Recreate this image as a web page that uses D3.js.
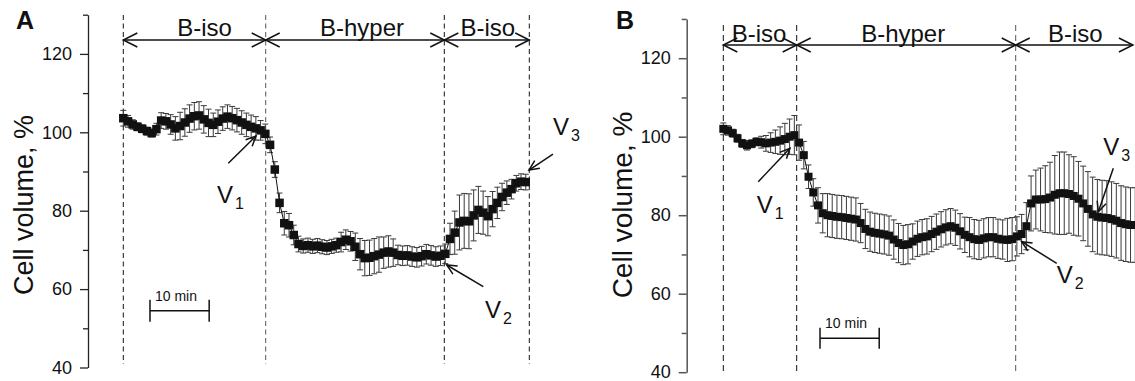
<!DOCTYPE html>
<html>
<head>
<meta charset="utf-8">
<script src="https://cdn.jsdelivr.net/npm/d3@7"></script>
<style>
  body { margin: 0; background: #fff; }
  svg { display: block; }
  text { font-family: "Liberation Sans", Arial, Helvetica, sans-serif; fill: #111; }
</style>
</head>
<body>
<svg id="chart" width="1135" height="381"></svg>
<script>
// Time between recorded frames, minutes
const frameMinutes = 0.8;

// Panel A: mean cell volume (%) and SEM per frame
const volumeA = [
  103.6,102.8,102.0,101.4,100.9,100.3,99.8,100.8,103.0,102.8,
  102.0,101.0,101.6,102.5,103.5,104.1,104.3,103.3,102.4,101.9,
  102.7,103.5,104.0,103.6,103.1,102.5,101.9,101.4,101.0,100.5,
  99.6,96.8,90.5,82.0,76.8,76.3,73.8,71.5,71.0,71.2,
  70.9,71.1,70.8,70.6,70.9,71.2,72.0,72.6,72.2,70.8,
  68.9,67.9,68.0,68.4,68.8,69.3,69.6,69.3,68.7,68.5,
  68.6,68.3,68.1,68.4,68.9,68.6,68.3,68.5,69.0,72.8,
  74.4,77.0,77.4,77.3,78.8,80.2,79.5,78.6,80.4,82.0,
  83.5,84.6,85.5,87.0,87.4,87.3
];
const semA = [
  2.0,1.5,1.2,1.0,1.0,1.0,1.0,1.5,2.0,2.0,
  2.5,3.0,3.5,3.5,3.5,3.5,3.5,3.5,3.5,3.0,
  3.0,3.0,3.0,3.0,3.0,3.0,3.0,3.0,3.0,2.5,
  2.5,2.0,2.0,2.5,3.0,3.0,2.5,2.0,1.8,1.8,
  1.8,1.8,1.8,1.8,1.8,1.8,2.5,2.5,2.5,3.5,
  4.0,4.5,4.5,4.5,4.5,4.0,4.0,3.5,2.5,2.5,
  2.5,2.5,2.5,2.5,2.5,2.5,2.5,2.5,2.5,4.0,
  5.5,7.0,7.0,7.0,6.5,6.0,5.5,5.0,4.5,4.0,
  3.5,3.0,2.5,2.0,2.0,2.0
];

// Panel B: mean cell volume (%) and SEM per frame
const volumeB = [
  102.0,101.6,100.9,99.6,98.3,97.8,98.2,98.7,98.6,98.3,
  98.5,98.7,99.0,99.4,100.0,100.4,98.5,95.3,89.8,85.8,
  82.5,80.5,80.0,79.8,79.6,79.5,79.3,79.1,78.9,78.0,
  76.5,75.8,75.5,75.3,75.1,74.8,73.8,72.9,72.4,72.6,
  73.3,74.0,74.4,74.6,75.2,75.8,76.4,76.9,77.2,76.8,
  75.9,75.0,74.4,73.9,73.7,74.1,74.4,74.4,74.0,73.8,
  73.7,73.9,74.6,75.2,77.2,83.0,84.0,84.0,84.1,84.5,
  85.2,85.6,85.6,85.4,84.9,84.2,83.0,81.6,80.2,79.6,
  79.4,79.3,79.0,78.6,78.0,77.7,77.5,77.5
];
const semB = [
  1.5,1.2,1.0,1.0,1.0,1.2,1.0,1.0,1.5,2.0,
  2.5,3.0,3.5,4.0,4.5,5.0,4.5,3.5,3.0,3.5,
  4.5,5.0,5.5,5.5,5.5,5.5,5.5,5.5,5.5,5.0,
  5.0,5.0,5.0,5.0,5.0,5.0,5.0,5.0,5.0,5.0,
  4.5,4.5,4.5,4.5,4.5,4.5,4.5,4.5,4.5,4.5,
  4.5,4.5,5.0,5.0,5.0,5.0,5.0,5.0,5.0,5.0,
  5.5,5.5,5.0,5.0,6.0,7.0,7.5,8.0,8.5,9.0,
  10.0,10.5,10.5,10.0,10.0,9.5,9.5,9.5,9.5,9.5,
  9.5,9.5,9.5,9.5,9.5,9.5,9.5,9.5
];

// Solution sequence and the switch times (minutes)
const phaseLabels = ["B-iso", "B-hyper", "B-iso"];
const switchesA = [0, 24.06, 54.24, 68.6];
const switchesB = [0, 12.4, 49.4];
const headerEndA = 68.6;
const headerEndB = 69.2;

// Y axis ticks
const yMajorTicks = [40, 60, 80, 100, 120];
const yMinorTicks = [50, 70, 90, 110, 130];
const yDomain = [40, 130];
const scaleBarMinutes = 10;

const panels = [
  {
    letter: "A", letterPos: [16, 29],
    values: volumeA, sem: semA, switches: switchesA, headerEnd: headerEndA,
    xDomain: [0, 68.6], xRange: [123.3, 529.3], yRange: [367.5, 14.7],
    axisX: 88, axisColor: "#222", axisWidth: 1.3,
    headerY: 40, headerBaseline: 36, labelShift: [10, 7, 1],
    dashExtent: [15, 364], dash: "5,3.5", dashColors: ["#111", "#555", "#111", "#111"],
    ylabel: { x: 33, y: 205, size: 27 },
    markerSize: 8.5, capHalf: 3,
    scaleBar: { t: 4.51, v: 54.49, half: 11 },
    notes: [
      { sub: "1", tip: [22.42, 99.06], tail: [17.74, 92.09], text: [15.83, 81.97] },
      { sub: "2", tip: [54.65, 66.15], tail: [60.83, 60.61], text: [61.12, 52.63] },
      { sub: "3", tip: [68.55, 90.38], tail: [72.6, 94.46], text: [72.6, 99.31] }
    ]
  },
  {
    letter: "B", letterPos: [616, 29],
    values: volumeB, sem: semB, switches: switchesB, headerEnd: headerEndB,
    xDomain: [0, 49.4], xRange: [723.3, 1015.7], yRange: [372.2, 18.95],
    axisX: 686.7, axisColor: "#555", axisWidth: 1.5,
    headerY: 45, headerBaseline: 41.5, labelShift: [-1, -3, 1],
    dashExtent: [25, 372], dash: "6,4", dashColors: ["#111", "#111", "#555"],
    ylabel: { x: 632, y: 205, size: 28 },
    markerSize: 8, capHalf: 3,
    scaleBar: { t: 16.34, v: 48.64, half: 10.5 },
    notes: [
      { sub: "1", tip: [11.26, 97.04], tail: [5.91, 88.54], text: [5.64, 80.56] },
      { sub: "2", tip: [50.41, 73.25], tail: [56.33, 67.75], text: [56.33, 62.73] },
      { sub: "3", tip: [63.36, 80.89], tail: [65.89, 91.95], text: [64.2, 95.34] }
    ]
  }
];

const svg = d3.select("#chart");

function drawPanel(p) {
  const g = svg.append("g");
  const x = d3.scaleLinear().domain(p.xDomain).range(p.xRange);
  const y = d3.scaleLinear().domain(yDomain).range(p.yRange);
  const pts = p.values.map((v, i) => ({ t: i * frameMinutes, v, e: p.sem[i] }));

  // panel letter
  g.append("text").attr("x", p.letterPos[0]).attr("y", p.letterPos[1])
    .attr("font-size", 25).attr("font-weight", "bold").text(p.letter);

  // y axis: major ticks with labels, minor ticks without
  const major = d3.axisLeft(y).tickValues(yMajorTicks).tickSize(8).tickPadding(8).tickSizeOuter(0);
  const minor = d3.axisLeft(y).tickValues(yMinorTicks).tickSize(5).tickFormat("").tickSizeOuter(0);
  const ga = g.append("g").attr("transform", `translate(${p.axisX},0)`).call(major);
  const gm = g.append("g").attr("transform", `translate(${p.axisX},0)`).call(minor);
  [ga, gm].forEach(a => {
    a.selectAll("path, line").attr("stroke", p.axisColor).attr("stroke-width", p.axisWidth);
  });
  gm.select(".domain").remove();
  ga.selectAll("text").attr("font-size", 18).attr("fill", "#111")
    .attr("font-family", '"Liberation Sans", Arial, Helvetica, sans-serif');

  // y axis title
  g.append("text")
    .attr("transform", `translate(${p.ylabel.x},${p.ylabel.y}) rotate(-90)`)
    .attr("text-anchor", "middle").attr("font-size", p.ylabel.size)
    .text("Cell volume, %");

  // solution switch markers
  g.selectAll("line.switch").data(p.switches).enter().append("line")
    .attr("class", "switch")
    .attr("x1", d => x(d)).attr("x2", d => x(d))
    .attr("y1", p.dashExtent[0]).attr("y2", p.dashExtent[1])
    .attr("stroke", (d, i) => p.dashColors[i]).attr("stroke-width", 1)
    .attr("stroke-dasharray", p.dash);

  // phase header arrows
  const bounds = p.switches.slice(0, 3).map((s, i) => [s, i < 2 ? p.switches[i + 1] : p.headerEnd]);
  bounds.forEach(([a, b], i) => {
    const x0 = x(a), x1 = x(b), yy = p.headerY;
    const hg = g.append("g").attr("fill", "none").attr("stroke", "#111").attr("stroke-width", 1.5);
    hg.append("line").attr("x1", x0).attr("x2", x1).attr("y1", yy).attr("y2", yy);
    hg.append("path").attr("d", `M${x0 + 14},${yy - 7}L${x0},${yy}L${x0 + 14},${yy + 7}`);
    hg.append("path").attr("d", `M${x1 - 14},${yy - 7}L${x1},${yy}L${x1 - 14},${yy + 7}`);
    g.append("text").attr("x", (x0 + x1) / 2 + p.labelShift[i]).attr("y", p.headerBaseline)
      .attr("text-anchor", "middle").attr("font-size", 24).text(phaseLabels[i]);
  });

  // error bars
  const eb = g.append("g").attr("stroke", "#3a3a3a").attr("stroke-width", 1);
  pts.forEach(d => {
    const cx = x(d.t), yt = y(d.v + d.e), yb = y(d.v - d.e);
    eb.append("line").attr("x1", cx).attr("x2", cx).attr("y1", yt).attr("y2", yb);
    eb.append("line").attr("x1", cx - p.capHalf).attr("x2", cx + p.capHalf).attr("y1", yt).attr("y2", yt);
    eb.append("line").attr("x1", cx - p.capHalf).attr("x2", cx + p.capHalf).attr("y1", yb).attr("y2", yb);
  });

  // connecting line and square markers
  g.append("path").datum(pts)
    .attr("d", d3.line().x(d => x(d.t)).y(d => y(d.v)))
    .attr("fill", "none").attr("stroke", "#111").attr("stroke-width", 1);
  const s = p.markerSize;
  g.selectAll("rect.pt").data(pts).enter().append("rect")
    .attr("class", "pt")
    .attr("x", d => x(d.t) - s / 2).attr("y", d => y(d.v) - s / 2)
    .attr("width", s).attr("height", s).attr("fill", "#111");

  // volume annotations V1..V3
  p.notes.forEach(n => {
    const tx = x(n.tip[0]), ty = y(n.tip[1]);
    const sx = x(n.tail[0]), sy = y(n.tail[1]);
    const ang = Math.atan2(ty - sy, tx - sx);
    const arm = 11, spread = 25 * Math.PI / 180;
    const ag = g.append("g").attr("stroke", "#111").attr("stroke-width", 1.5).attr("fill", "none");
    ag.append("line").attr("x1", sx).attr("y1", sy).attr("x2", tx).attr("y2", ty);
    ag.append("path").attr("d",
      `M${tx - arm * Math.cos(ang - spread)},${ty - arm * Math.sin(ang - spread)}` +
      `L${tx},${ty}` +
      `L${tx - arm * Math.cos(ang + spread)},${ty - arm * Math.sin(ang + spread)}`);
    const t = g.append("text").attr("x", x(n.text[0])).attr("y", y(n.text[1])).attr("font-size", 24);
    t.append("tspan").text("V");
    t.append("tspan").attr("dx", 2).attr("dy", 6).attr("font-size", 16).text(n.sub);
  });

  // time scale bar
  const sb = p.scaleBar;
  const bx0 = x(sb.t), bx1 = x(sb.t + scaleBarMinutes), by = y(sb.v);
  const bg = g.append("g").attr("stroke", "#111").attr("stroke-width", 1.5);
  bg.append("line").attr("x1", bx0).attr("x2", bx1).attr("y1", by).attr("y2", by);
  bg.append("line").attr("x1", bx0).attr("x2", bx0).attr("y1", by - sb.half).attr("y2", by + sb.half);
  bg.append("line").attr("x1", bx1).attr("x2", bx1).attr("y1", by - sb.half).attr("y2", by + sb.half);
  g.append("text").attr("x", bx0 + 5).attr("y", by - 10).attr("font-size", 14)
    .text(scaleBarMinutes + " min");
}

panels.forEach(drawPanel);
</script>
</body>
</html>
